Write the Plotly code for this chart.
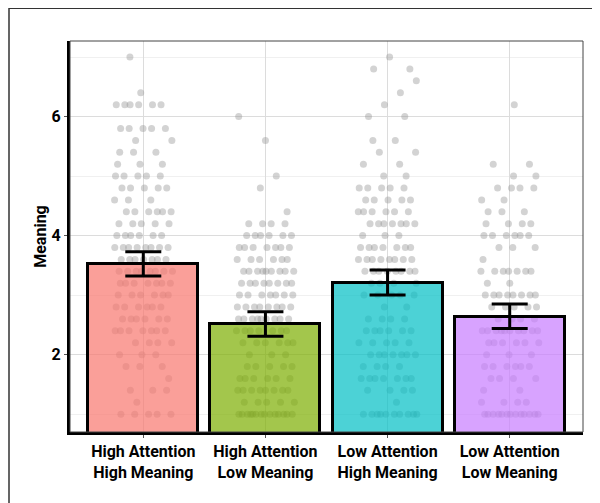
import plotly.graph_objects as go

# ---- data ----
categories = ["High Attention<br>High Meaning", "High Attention<br>Low Meaning",
              "Low Attention<br>High Meaning", "Low Attention<br>Low Meaning"]
means = [3.52, 2.52, 3.21, 2.64]
err_plus = [0.21, 0.20, 0.21, 0.21]
err_minus = [0.20, 0.21, 0.21, 0.20]

# response levels (scale averages) and how many participants sit at each level
levels = [1.0, 1.2, 1.4, 1.6, 1.8, 2.0, 2.2, 2.4, 2.6, 2.8, 3.0, 3.2, 3.4, 3.6, 3.8,
          4.0, 4.2, 4.4, 4.6, 4.8, 5.0, 5.2, 5.4, 5.6, 5.8, 6.0, 6.2, 6.4, 6.6, 6.8, 7.0]
counts_hahm = [5, 1, 3, 1, 3, 3, 4, 7, 6, 6, 6, 7, 8, 7, 8,
               6, 5, 6, 3, 5, 5, 3, 3, 2, 5, 0, 6, 1, 0, 0, 1]
counts_halm = [14, 5, 8, 6, 5, 3, 6, 7, 9, 8, 7, 8, 9, 6, 7,
               6, 4, 1, 0, 1, 1, 0, 0, 1, 0, 1, 0, 0, 0, 0, 0]
counts_lahm = [10, 1, 4, 7, 4, 7, 5, 6, 4, 2, 5, 4, 8, 8, 7,
               3, 7, 6, 5, 5, 2, 2, 2, 2, 0, 2, 1, 1, 1, 2, 1]
counts_lalm = [13, 4, 2, 4, 6, 3, 6, 10, 4, 5, 8, 2, 7, 1, 3,
               6, 4, 3, 2, 4, 2, 2, 0, 0, 0, 0, 1, 0, 0, 0, 0]
all_counts = [counts_hahm, counts_halm, counts_lahm, counts_lalm]

bar_colors = ["rgba(248,118,109,0.7)", "rgba(124,174,0,0.7)",
              "rgba(0,191,196,0.7)", "rgba(199,124,255,0.7)"]

# ---- build jittered point positions (deterministic spread) ----
px, py = [], []
for c, counts in enumerate(all_counts):
    for i, (lv, n) in enumerate(zip(levels, counts)):
        for k in range(n):
            u = (0.5 + (k + 1) * 0.6180339 + i * 0.2718 + c * 0.131) % 1.0
            px.append(c + 1 + (u - 0.5) * 0.48)
            py.append(lv)

fig = go.Figure()

fig.add_trace(go.Scatter(
    x=px, y=py, mode="markers",
    marker=dict(size=7, color="rgba(145,145,145,0.4)", line=dict(width=0)),
    hoverinfo="skip", showlegend=False, xaxis="x", yaxis="y"))

fig.add_trace(go.Bar(
    x=[1, 2, 3, 4], y=means, width=0.9,
    marker=dict(color=bar_colors, line=dict(color="black", width=3)),
    error_y=dict(type="data", symmetric=False, array=err_plus, arrayminus=err_minus,
                 color="black", thickness=3, width=18),
    showlegend=False, xaxis="x2", yaxis="y2"))

XR = [0.4, 4.6]
YR = [0.7, 7.27]
tickfont = dict(family="Roboto", size=16, color="black", weight="bold")

# plot area in figure pixels (page shows figure offset by 8px body margin)
L, R, T, B = 62, 575, 33, 424
W, H = 600, 503

fig.update_layout(
    width=W, height=H,
    margin=dict(l=L, r=W - R, t=T, b=H - B),
    paper_bgcolor="white", plot_bgcolor="white",
    bargap=0,
    xaxis=dict(range=XR, tickmode="array", tickvals=[1, 2, 3, 4], ticktext=categories,
               tickfont=tickfont, showgrid=True, gridcolor="#DCDCDC", gridwidth=1,
               ticks="outside", ticklen=3, tickcolor="#555", tickwidth=1,
               showline=True, linecolor="black", linewidth=3, zeroline=False,
               automargin=False),
    yaxis=dict(range=YR, tickmode="array", tickvals=[2, 4, 6],
               tickfont=tickfont, showgrid=True, gridcolor="#DCDCDC", gridwidth=1,
               minor=dict(tickvals=[1, 3, 5, 7], showgrid=True, gridcolor="#F0F0F0",
                          ticks=""),
               ticks="outside", ticklen=3, tickcolor="#555", tickwidth=1,
               showline=True, linecolor="black", linewidth=3, zeroline=False,
               automargin=False,
               title=dict(text="Meaning", font=dict(family="Roboto", size=16,
                                                    color="black", weight="bold"),
                          standoff=2)),
    xaxis2=dict(range=XR, overlaying="x", visible=False),
    yaxis2=dict(range=YR, overlaying="y", visible=False),
    shapes=[
        # thin panel border (top/right)
        dict(type="rect", xref="paper", yref="paper", x0=0, x1=1, y0=0, y1=1,
             line=dict(color="#444", width=1), layer="above"),
        # outer figure border
        dict(type="rect", xref="paper", yref="paper",
             x0=(1 - L) / (R - L), x1=(640 - L) / (R - L),
             y0=(B - 560) / (B - T), y1=(B - 0.3) / (B - T),
             line=dict(color="#333", width=1.5), layer="above"),
    ],
)

fig.write_html("out.html")
